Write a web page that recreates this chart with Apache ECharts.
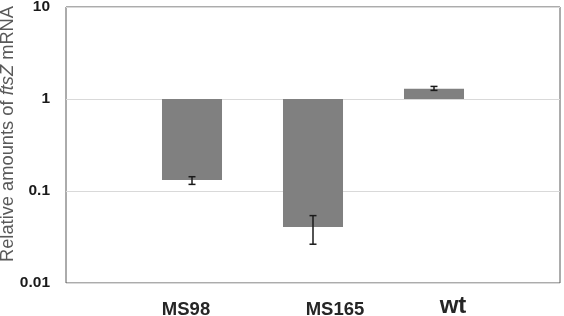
<!DOCTYPE html>
<html><head><meta charset="utf-8">
<script src="https://cdn.jsdelivr.net/npm/echarts@6/dist/echarts.min.js"></script>
<style>html,body{margin:0;padding:0;background:#fff}#c{width:564px;height:316px}</style>
</head><body><div id="c"></div>
<script>
const categories = ['MS98', 'MS165', 'wt'];
const values = [0.132, 0.0406, 1.29];
const errLow = [0.118, 0.0264, 1.24];
const errHigh = [0.143, 0.054, 1.37];
const baseline = 1;
const yMin = 0.01, yMax = 10;

const data = categories.map((c, i) => [i, values[i], errLow[i], errHigh[i]]);
const font = 'Liberation Sans';

const chart = echarts.init(document.getElementById('c'), null, {renderer: 'canvas'});
chart.setOption({
  animation: false,
  backgroundColor: '#fff',
  grid: [
    {left: 66, top: 7, width: 494, height: 276, show: true, borderColor: '#595959', borderWidth: 1, backgroundColor: 'transparent', outerBoundsMode: 'none', containLabel: false},
    {left: 131.5, top: 7, width: 363, height: 276, outerBoundsMode: 'none', containLabel: false}
  ],
  xAxis: [
    {type: 'category', gridIndex: 0, data: categories, show: false},
    {type: 'category', gridIndex: 1, data: categories,
     axisLine: {show: false}, axisTick: {show: false},
     axisLabel: {
       margin: 11,
       fontFamily: font, fontWeight: 'bold', color: '#262626',
       formatter: (v, i) => '{' + ['a', 'b', 'c'][i] + '|' + v + '}',
       rich: {
         a: {fontFamily: font, fontWeight: 'bold', fontSize: 18.5, color: '#262626', padding: [6, 12, 0, 0]},
         b: {fontFamily: font, fontWeight: 'bold', fontSize: 18.5, color: '#262626', padding: [6, 0, 0, 44]},
         c: {fontFamily: font, fontWeight: 'bold', fontSize: 24, color: '#262626', padding: [0, 0, 0, 38]}
       }
     }}
  ],
  yAxis: [
    {type: 'log', logBase: 10, gridIndex: 0, min: yMin, max: yMax,
     name: '{a|Relative amounts of }{b|ftsZ}{a| mRNA}',
     nameLocation: 'middle', nameRotate: 90, nameGap: 49, nameMoveOverlap: false,
     nameTextStyle: {padding: [0, 0, 0, 22],
       rich: {
         a: {fontFamily: font, fontSize: 18.3, color: '#595959'},
         b: {fontFamily: font, fontSize: 18.3, color: '#595959', fontStyle: 'italic'}
       }},
     axisLine: {show: false}, axisTick: {show: false},
     axisLabel: {margin: 16, fontFamily: font, fontWeight: 'bold', fontSize: 15.5, color: '#1a1a1a',
       formatter: v => String(+v.toPrecision(3))},
     splitLine: {show: true, lineStyle: {color: '#d9d9d9', width: 1}}},
    {type: 'log', logBase: 10, gridIndex: 1, min: yMin, max: yMax, show: false, splitLine: {show: false}}
  ],
  series: [{
    type: 'custom',
    xAxisIndex: 1, yAxisIndex: 1,
    data: data,
    encode: {x: 0, y: 1},
    clip: false,
    renderItem: (params, api) => {
      const i = api.value(0), v = api.value(1), lo = api.value(2), hi = api.value(3);
      const pBase = api.coord([i, baseline]);
      const pVal = api.coord([i, v]);
      const band = api.coord([1, v])[0] - api.coord([0, v])[0];
      const bw = band * 0.496;
      const x = pBase[0];
      const yTop = Math.min(pBase[1], pVal[1]);
      const h = Math.abs(pBase[1] - pVal[1]);
      const pLo = api.coord([i, lo]), pHi = api.coord([i, hi]);
      const cap = 3.5;
      const es = {stroke: '#1a1a1a', lineWidth: 1.5};
      return {type: 'group', children: [
        {type: 'rect', shape: {x: x - bw / 2, y: yTop, width: bw, height: h}, style: {fill: '#808080'}},
        {type: 'line', shape: {x1: x, y1: pLo[1], x2: x, y2: pHi[1]}, style: es},
        {type: 'line', shape: {x1: x - cap, y1: pLo[1], x2: x + cap, y2: pLo[1]}, style: es},
        {type: 'line', shape: {x1: x - cap, y1: pHi[1], x2: x + cap, y2: pHi[1]}, style: es}
      ]};
    }
  }]
});
</script></body></html>
